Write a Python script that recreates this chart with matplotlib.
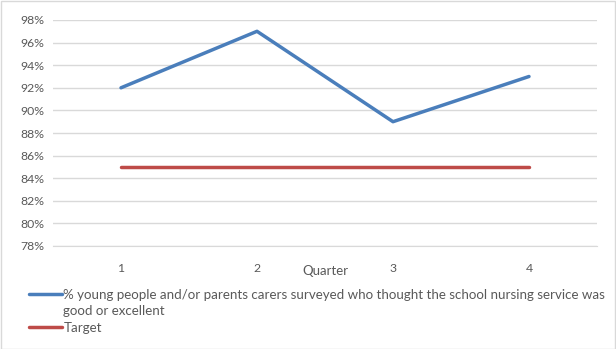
import matplotlib.pyplot as plt
import matplotlib.ticker as mtick
from matplotlib.lines import Line2D

quarters = [1, 2, 3, 4]
satisfaction = [92, 97, 89, 93]
target = [85, 85, 85, 85]
series_label = ["% young people and/or parents carers surveyed who thought the school nursing service was",
                "good or excellent"]
target_label = "Target"

plt.rcParams['font.family'] = ['Lato', 'DejaVu Sans']

fig = plt.figure(figsize=(6.16, 3.49), dpi=100)
ax = fig.add_axes([53 / 616, 1 - 246 / 349, (597 - 53) / 616, (246 - 20) / 349])

l1, = ax.plot(quarters, satisfaction, color='#4a7ebb', lw=2.5, solid_capstyle='round')
l2, = ax.plot(quarters, target, color='#be4b48', lw=2.5, solid_capstyle='round')

ax.set_xlim(0.5, 4.5)
ax.set_ylim(78, 98)
ax.set_yticks(range(78, 99, 2))
ax.yaxis.set_major_formatter(mtick.FuncFormatter(lambda v, p: f"{v:.0f}%"))
ax.set_xticks(quarters)
ax.grid(axis='y', color='#d9d9d9', lw=1)
ax.set_axisbelow(True)
for s in ['top', 'right', 'left']:
    ax.spines[s].set_visible(False)
ax.spines['bottom'].set_color('#d9d9d9')
ax.tick_params(length=0, labelsize=8.8, colors='#595959')
ax.tick_params(axis='x', pad=12)
ax.tick_params(axis='y', pad=6)
ax.set_xlabel("Quarter", fontsize=9.5, color='#595959', labelpad=-6)

# second line of the long label gets an empty handle so the line sits next to line one
blank = Line2D([], [], lw=0)
leg = fig.legend([l1, blank, l2], series_label + [target_label], loc='upper left',
                 bbox_to_anchor=(22 / 616, 1 - 282 / 349), frameon=False,
                 fontsize=9.6, handlelength=2.5, handletextpad=0.1, labelspacing=0.34,
                 borderpad=0, labelcolor='#595959')

fig.patches.append(plt.Rectangle((0.5 / 616, 0.5 / 349), 1 - 1.5 / 616, 1 - 1.5 / 349,
                                 transform=fig.transFigure, fill=False,
                                 edgecolor='#d9d9d9', lw=1))
fig.savefig("out.png", dpi=100)
